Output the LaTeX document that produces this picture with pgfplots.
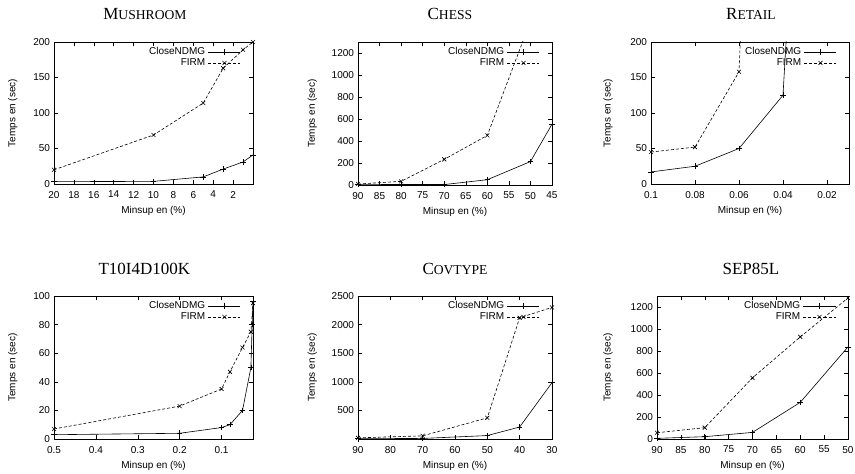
\documentclass[border=0pt]{standalone}
\usepackage{fontspec}
\setmainfont{Liberation Sans}
\newfontfamily\timesfont{Liberation Serif}
\usepackage{pgfplots}
\pgfplotsset{compat=1.18}

% fake small caps for the subfigure titles
\newcommand{\fsc}[2]{{\timesfont\fontsize{17}{17}\selectfont #1\fontsize{13.6}{13.6}\selectfont #2}}
\newcommand{\ttl}[1]{{\timesfont\fontsize{17}{17}\selectfont #1}}

\pgfplotsset{
  gp/.style={
    scale only axis, x dir=reverse,
    axis line style={line width=0.6pt},
    tick align=inside, major tick length=4pt,
    every tick/.append style={line width=0.5pt, black},
    tick label style={font=\fontsize{10}{12}\selectfont},
    label style={font=\fontsize{10}{12}\selectfont},
    xlabel={Minsup en (\%)}, ylabel={Temps en (sec)},
    xlabel style={at={(axis description cs:0.5,-0.188)}, anchor=center},
    every axis title shift=0pt,
    scaled ticks=false,
    /pgf/number format/assume math mode=true,
    /pgf/number format/1000 sep={},
    xticklabel style={/pgf/number format/fixed, /pgf/number format/precision=2, yshift=-3.5pt},
    yticklabel style={xshift=-0.5pt},
    legend plot pos=right,
    legend cell align=right,
    legend style={draw=none, fill=none, at={(1,1)}, anchor=north east,
      xshift=-12pt, yshift=-4.5pt, font=\fontsize{10}{12}\selectfont,
      inner sep=0pt, nodes={inner sep=1pt}, row sep=0.3pt, column sep=2pt},
    legend image code/.code={\draw[mark repeat=2,mark phase=2,#1]
      plot coordinates {(0pt,0pt) (16pt,0pt) (32pt,0pt)};},
    every axis plot/.append style={black, line width=0.6pt, mark size=2.8pt},
  },
  closed/.style={solid, mark=+, mark options={solid}},
  firm/.style={dash pattern=on 3pt off 2pt, mark=x, mark options={solid}},
}

\begin{document}
\begin{tikzpicture}
\useasboundingbox (0,0) rectangle (855pt,474pt);

% Mushroom
\begin{axis}[gp, at={(54pt,290pt)}, anchor=south west, width=199pt, height=142pt,
  xmin=0, xmax=20, xtick={2,4,...,20}, ymin=0, ymax=200, ytick={0,50,...,200},
  title={\fsc{M}{USHROOM}}, title style={at={(axis description cs:0.457,1.16)}, anchor=base},
  ylabel style={at={(axis description cs:-0.207,0.5)}, anchor=center}]
\addplot[closed] coordinates {(20,3.3) (10,3.7) (5,10) (3,21) (1,31) (0,41)};
\addplot[firm] coordinates {(20,20) (10,69) (5,114) (3,163) (1,189) (0,200)};
\legend{CloseNDMG, FIRM}
\end{axis}

% Chess
\begin{axis}[gp, at={(358pt,289pt)}, anchor=south west, width=194pt, height=143pt,
  xmin=45, xmax=90, xtick={45,50,...,90}, ymin=0, ymax=1300, ytick={0,200,...,1200},
  title={\fsc{C}{HESS}}, title style={at={(axis description cs:0.474,1.16)}, anchor=base},
  ylabel style={at={(axis description cs:-0.236,0.5)}, anchor=center}]
\addplot[closed] coordinates {(90,3) (80,5) (70,4) (60,48) (50,213) (45,553)};
\addplot[firm] coordinates {(90,9) (80,33) (70,233) (60,451) (50,1490)};
\legend{CloseNDMG, FIRM}
\end{axis}

% Retail
\begin{axis}[gp, at={(651pt,290pt)}, anchor=south west, width=198pt, height=142pt,
  xmin=0.01, xmax=0.1, xtick={0.02,0.04,0.06,0.08,0.1}, ymin=0, ymax=200, ytick={0,50,...,200},
  title={\fsc{R}{ETAIL}}, title style={at={(axis description cs:0.505,1.16)}, anchor=base},
  ylabel style={at={(axis description cs:-0.217,0.5)}, anchor=center}]
\addplot[closed] coordinates {(0.1,17) (0.08,25) (0.06,50) (0.04,125) (0.035,393)};
\addplot[firm] coordinates {(0.1,45) (0.08,52) (0.06,158) (0.055,508)};
\legend{CloseNDMG, FIRM}
\end{axis}

% T10I4D100K
\begin{axis}[gp, at={(54pt,35pt)}, anchor=south west, width=199pt, height=143pt,
  xmin=0.025, xmax=0.5, xtick={0.1,0.2,0.3,0.4,0.5}, ymin=0, ymax=100, ytick={0,20,...,100},
  title={\ttl{T10I4D100K}}, title style={at={(axis description cs:0.454,1.152)}, anchor=base},
  ylabel style={at={(axis description cs:-0.207,0.5)}, anchor=center}]
\addplot[closed] coordinates {(0.5,3) (0.2,4) (0.1,8) (0.08,10) (0.05,20) (0.03,50) (0.027,80) (0.025,96)};
\addplot[firm] coordinates {(0.5,7) (0.2,23) (0.1,35) (0.08,47) (0.05,64) (0.03,75) (0.025,95)};
\legend{CloseNDMG, FIRM}
\end{axis}

% Covtype
\begin{axis}[gp, at={(358pt,35pt)}, anchor=south west, width=194pt, height=143pt,
  xmin=30, xmax=90, xtick={30,40,...,90}, ymin=0, ymax=2500, ytick={500,1000,...,2500},
  title={\fsc{C}{OVTYPE}}, title style={at={(axis description cs:0.5,1.152)}, anchor=base},
  ylabel style={at={(axis description cs:-0.236,0.5)}, anchor=center}]
\addplot[closed] coordinates {(90,5) (70,10) (50,60) (40,210) (30,985)};
\addplot[firm] coordinates {(90,20) (70,55) (50,370) (40,2120) (30,2300)};
\legend{CloseNDMG, FIRM}
\end{axis}

% SEP85L
\begin{axis}[gp, at={(657pt,35pt)}, anchor=south west, width=191pt, height=143pt,
  xmin=50, xmax=90, xtick={50,55,...,90}, ymin=0, ymax=1300, ytick={0,200,...,1200},
  title={\ttl{SEP85L}}, title style={at={(axis description cs:0.492,1.152)}, anchor=base},
  ylabel style={at={(axis description cs:-0.257,0.5)}, anchor=center}]
\addplot[closed] coordinates {(90,6) (80,21) (70,60) (60,333) (50,837)};
\addplot[firm] coordinates {(90,57) (80,103) (70,556) (60,928) (50,1282)};
\legend{CloseNDMG, FIRM}
\end{axis}
\end{tikzpicture}
\end{document}
